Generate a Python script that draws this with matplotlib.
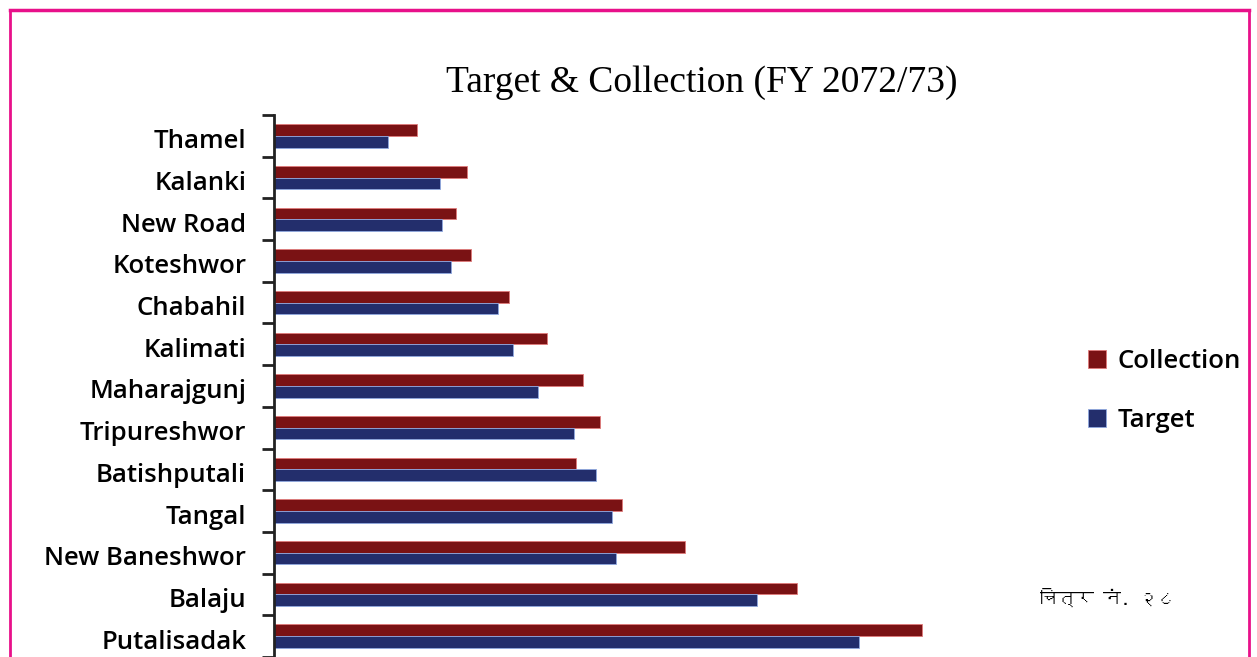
import matplotlib
matplotlib.use("Agg")
import matplotlib.pyplot as plt
from matplotlib import font_manager
from matplotlib.ft2font import FT2Font
from matplotlib.transforms import ScaledTranslation
import numpy as np

# data (no x scale shown, so values are relative bar lengths)
areas = ["Thamel", "Kalanki", "New Road", "Koteshwor", "Chabahil", "Kalimati",
         "Maharajgunj", "Tripureshwor", "Batishputali", "Tangal",
         "New Baneshwor", "Balaju", "Putalisadak"]
collection = [143, 193, 182, 197, 235, 273, 309, 326, 302, 348, 411, 523, 648]
target = [114, 166, 168, 177, 224, 239, 264, 300, 322, 338, 342, 483, 585]

red = "#7a1214"
blue = "#232e6c"
pink = "#e8108a"
label_font = "Open Sans"


def find_devanagari_font():
    # look for any installed font that has Devanagari glyphs
    for f in font_manager.fontManager.ttflist:
        try:
            if 0x091A in FT2Font(f.fname).get_charmap():
                return f.name
        except Exception:
            pass
    return "DejaVu Sans"


fig = plt.figure(figsize=(12.57, 6.57), dpi=100)
ax = fig.add_axes([274 / 1257, 0.0, 856 / 1257, 1 - 115 / 657])

y = np.arange(len(areas))
h = 0.28
ax.barh(y - h / 2, collection, height=h, color=red, edgecolor="#e07a7a", linewidth=0.6, label="Collection")
ax.barh(y + h / 2, target, height=h, color=blue, edgecolor="#8fa8e0", linewidth=0.6, label="Target")

ax.set_ylim(len(areas) - 0.5, -0.5)
ax.set_xlim(0, 856)
ax.set_yticks(y)
ax.set_yticklabels(areas, fontsize=18.5, fontweight="semibold", family=label_font, va="center")
ax.tick_params(axis="y", length=0, pad=20)
ax.set_yticks(np.arange(-0.5, len(areas), 1), minor=True)
ax.tick_params(axis="y", which="minor", length=9, width=2, color="#222222", direction="out")
ax.set_xticks([])
for s in ["top", "right", "bottom"]:
    ax.spines[s].set_visible(False)
ax.spines["left"].set_linewidth(2)
ax.spines["left"].set_color("#222222")
# labels sit a little below the bar pair centre in the original
shift = ScaledTranslation(0, -6 / 100, fig.dpi_scale_trans)
for lbl in ax.get_yticklabels():
    lbl.set_transform(lbl.get_transform() + shift)

fig.text(702 / 1257, 1 - 83 / 657, "Target & Collection (FY 2072/73)",
         ha="center", va="center", fontsize=27, family="Liberation Serif")

# legend at right, partly cut by the frame like the original
handles, labels = ax.get_legend_handles_labels()
leg = fig.legend(handles, labels, loc="upper left", bbox_to_anchor=(1065 / 1257, 1 - 326 / 657),
                 frameon=False, prop={"family": label_font, "weight": "semibold", "size": 18.5},
                 handlelength=0.7, handleheight=0.7, handletextpad=0.45, labelspacing=1.3)

fig.text(1040 / 1257, 1 - 597 / 657, "चित्र नं. २८", ha="left", va="center",
         fontsize=13, fontweight="bold", family=[find_devanagari_font(), "DejaVu Sans"])

# magenta frame
fig.add_artist(plt.Line2D([10 / 1257, 1249 / 1257], [1 - 10 / 657] * 2, color=pink, lw=2.5))
fig.add_artist(plt.Line2D([10 / 1257] * 2, [0, 1 - 10 / 657], color=pink, lw=2))
fig.add_artist(plt.Line2D([1249 / 1257] * 2, [0, 1 - 10 / 657], color=pink, lw=2))

fig.savefig("out.png", dpi=100)
